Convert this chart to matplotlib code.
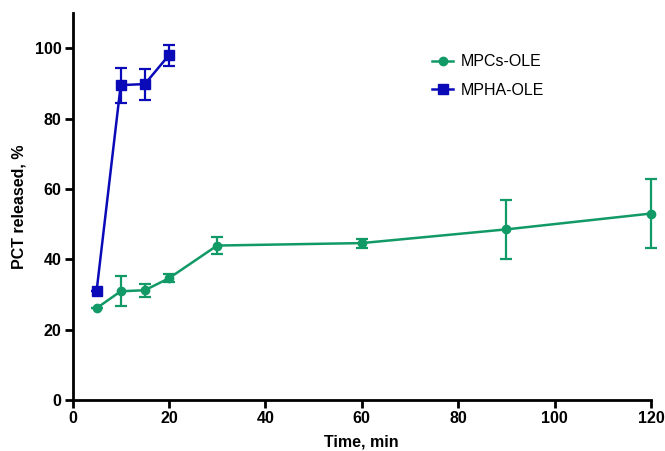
import numpy as np
import matplotlib
matplotlib.use('Agg')
import matplotlib.pyplot as plt

plt.rcParams['font.family'] = ['Liberation Sans', 'DejaVu Sans']

# dane
time_mpcs = [5, 10, 15, 20, 30, 60, 90, 120]
pct_mpcs = [26.1, 30.9, 31.2, 34.6, 43.9, 44.6, 48.5, 53.0]
err_mpcs = [0, 4.3, 1.8, 1.2, 2.5, 1.3, 8.4, 9.8]

time_mpha = [5, 10, 15, 20]
pct_mpha = [31.0, 89.5, 89.8, 98.0]
err_mpha = [0, 5.0, 4.4, 3.0]

green = '#129a66'
blue = '#0a0ab8'

fig = plt.figure(figsize=(6.65, 4.51), dpi=100)
ax = fig.add_axes([72.5 / 665, 51 / 451, (651 - 72.5) / 665, (400 - 13) / 451])

ax.errorbar(time_mpcs, pct_mpcs, yerr=err_mpcs, color=green, marker='o',
            markersize=6, linewidth=1.8, capsize=4, capthick=1.6,
            elinewidth=1.6, label='MPCs-OLE', clip_on=False)
ax.errorbar(time_mpha, pct_mpha, yerr=err_mpha, color=blue, marker='s',
            markersize=6.5, linewidth=1.8, capsize=4, capthick=1.6,
            elinewidth=1.6, label='MPHA-OLE', clip_on=False)

ax.set_xlim(0, 120)
ax.set_ylim(0, 110)
ax.set_xticks(np.arange(0, 121, 20))
ax.set_yticks(np.arange(0, 101, 20))

for s in ['top', 'right']:
    ax.spines[s].set_visible(False)
for s in ['left', 'bottom']:
    ax.spines[s].set_linewidth(2)
ax.tick_params(width=2, length=6, labelsize=11.5, pad=2)
for lab in ax.get_xticklabels() + ax.get_yticklabels():
    lab.set_fontweight('bold')

ax.set_xlabel('Time, min', fontsize=11.5, fontweight='bold', labelpad=6)
ax.set_ylabel('PCT released, %', fontsize=11.5, fontweight='bold', labelpad=6)

# legenda bez słupków błędów
handles, labels = ax.get_legend_handles_labels()
handles = [h[0] for h in handles]
leg = ax.legend(handles, labels, loc='upper left', bbox_to_anchor=(0.597, 0.93),
                frameon=False, fontsize=11.5, handlelength=1.3,
                handletextpad=0.5, labelspacing=0.85)

fig.savefig('out.png', dpi=100)
